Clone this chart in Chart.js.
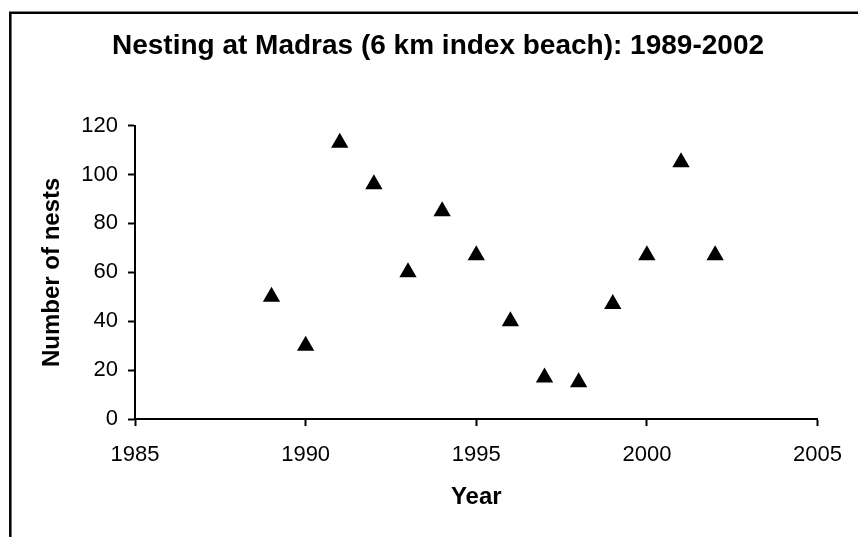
<!DOCTYPE html>
<html>
<head>
<meta charset="utf-8">
<title>Nesting at Madras</title>
<script src="https://cdn.jsdelivr.net/npm/chart.js@4/dist/chart.umd.min.js"></script>
<style>
  html, body { margin: 0; padding: 0; background: #fff; }
  #wrap { width: 858px; height: 537px; position: relative; }
</style>
</head>
<body>
<div id="wrap"><canvas id="canvas"></canvas></div>
<script>
var YEARS = [1989, 1990, 1991, 1992, 1993, 1994, 1995, 1996, 1997, 1998, 1999, 2000, 2001, 2002];
var NESTS = [50, 30, 113, 96, 60, 85, 67, 40, 17, 15, 47, 67, 105, 67];
var X_TICKS = [1985, 1990, 1995, 2000, 2005];
var Y_TICKS = [0, 20, 40, 60, 80, 100, 120];

var FONT = '"Liberation Sans", Arial, sans-serif';

var points = YEARS.map(function(y, i) {
    return { x: y, y: NESTS[i] };
});

// outer frame (left and top edges only, the rest is cropped off)
var framePlugin = {
    id: 'frame',
    afterDraw: function(chart) {
        var ctx = chart.ctx;
        ctx.save();
        ctx.strokeStyle = '#000';
        ctx.lineWidth = 2.5;
        ctx.beginPath();
        ctx.moveTo(10.3, 537);
        ctx.lineTo(10.3, 12.8);
        ctx.lineTo(858, 12.8);
        ctx.stroke();
        ctx.restore();
    }
};

window.onload = function() {
    var ctx = document.getElementById('canvas').getContext('2d');
    window.myChart = new Chart(ctx, {
        type: 'scatter',
        data: {
            datasets: [{
                label: 'Nests',
                data: points,
                pointStyle: 'triangle',
                pointRadius: 10,
                pointHoverRadius: 10,
                backgroundColor: '#000',
                borderColor: '#000',
                borderWidth: 0
            }]
        },
        options: {
            responsive: true,
            maintainAspectRatio: false,
            animation: false,
            layout: {
                padding: { left: 18, right: 0, top: 0, bottom: 0 }
            },
            plugins: {
                legend: { display: false },
                tooltip: { enabled: false },
                title: {
                    display: true,
                    text: 'Nesting at Madras (6 km index beach): 1989-2002',
                    color: '#000',
                    font: { family: FONT, size: 28, weight: 'bold' },
                    padding: { top: 29, bottom: 63 }
                }
            },
            scales: {
                x: {
                    type: 'linear',
                    position: 'bottom',
                    min: 1985,
                    max: 2005,
                    afterFit: function(scale) { scale.height = 118; },
                    afterBuildTicks: function(scale) {
                        scale.ticks = X_TICKS.map(function(v) { return { value: v }; });
                    },
                    ticks: {
                        color: '#000',
                        font: { family: FONT, size: 22 },
                        padding: 16,
                        maxRotation: 0,
                        callback: function(value) { return String(value); }
                    },
                    grid: {
                        drawOnChartArea: false,
                        drawTicks: true,
                        tickLength: 7,
                        tickWidth: 2,
                        tickColor: '#000'
                    },
                    border: { color: '#000', width: 2 },
                    title: {
                        display: true,
                        text: 'Year',
                        color: '#000',
                        font: { family: FONT, size: 24, weight: 'bold' },
                        padding: { top: 0, bottom: 25 }
                    }
                },
                y: {
                    type: 'linear',
                    position: 'left',
                    min: 0,
                    max: 120,
                    afterFit: function(scale) { scale.width = 117; },
                    afterBuildTicks: function(scale) {
                        scale.ticks = Y_TICKS.map(function(v) { return { value: v }; });
                    },
                    ticks: {
                        color: '#000',
                        font: { family: FONT, size: 22 },
                        padding: 10
                    },
                    grid: {
                        drawOnChartArea: false,
                        drawTicks: true,
                        tickLength: 7,
                        tickWidth: 2,
                        tickColor: '#000'
                    },
                    border: { color: '#000', width: 2 },
                    title: {
                        display: true,
                        text: 'Number of nests',
                        color: '#000',
                        font: { family: FONT, size: 24, weight: 'bold' },
                        padding: { top: 20, bottom: 0 }
                    }
                },
                // empty right axis, only reserves the margin on the right
                y2: {
                    type: 'linear',
                    position: 'right',
                    display: true,
                    afterFit: function(scale) { scale.width = 38; },
                    ticks: { display: false },
                    grid: { display: false, drawTicks: false },
                    border: { display: false }
                }
            }
        },
        plugins: [framePlugin]
    });
};
</script>
</body>
</html>
